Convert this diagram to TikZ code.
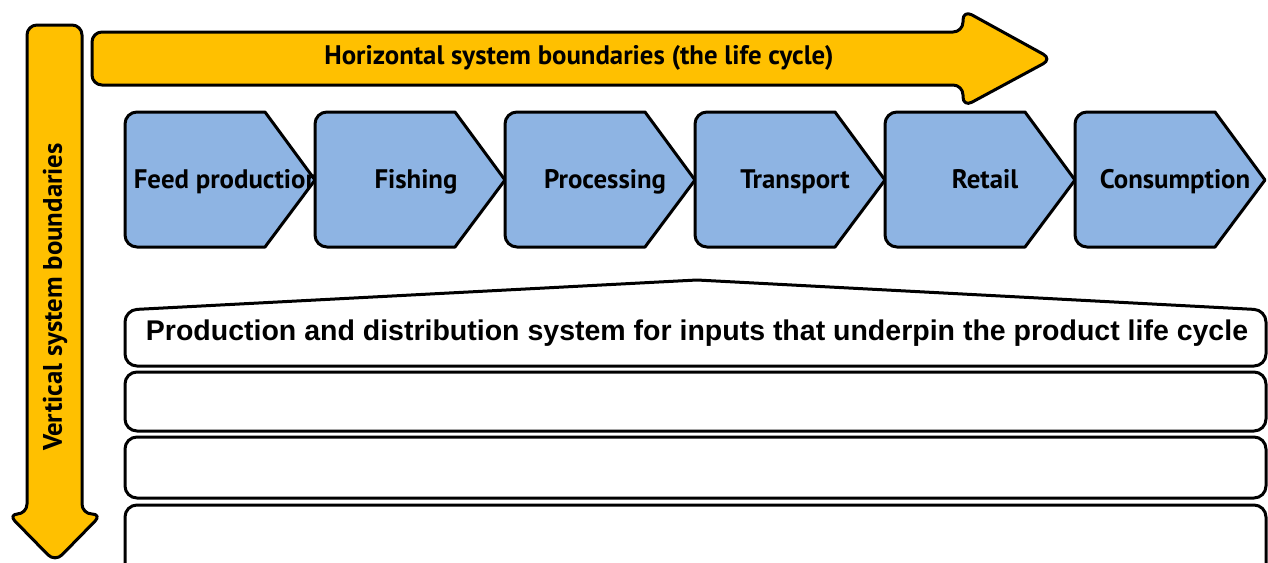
\documentclass[tikz,border=0pt]{standalone}
\usepackage{fontspec}
\setmainfont{Liberation Sans}
\newfontfamily\stagefont{PT Sans}
\definecolor{boundyellow}{HTML}{FFC000}
\definecolor{stageblue}{HTML}{8EB4E3}
\begin{document}
\begin{tikzpicture}[x=0.5pt,y=-0.5pt,line width=1.5pt,line join=round]
\useasboundingbox (0,0) rectangle (1268,562);
% the two boundary arrows
\filldraw[fill=boundyellow,rounded corners=5pt] (92,32) -- (963,32) -- (963,10) -- (1052,59) -- (963,107) -- (963,85) -- (92,85) -- cycle;
\node (horiz) at (579,58) [font={\stagefont\bfseries\fontsize{13.4}{16}\selectfont}] {Horizontal system boundaries (the life cycle)};
\filldraw[fill=boundyellow,rounded corners=5pt] (27,25) -- (82,25) -- (82,514) -- (102,514) -- (55,562) -- (8,514) -- (27,514) -- cycle;
\node (vert) at (55,297) [rotate=90,font={\stagefont\bfseries\fontsize{13.4}{16}\selectfont}] {Vertical system boundaries};
% life cycle stages
\filldraw[fill=stageblue] (125,180) [rounded corners=6pt] -- (125,112) [sharp corners] -- (265,112) -- (315,180) -- (265,247) [rounded corners=6pt] -- (125,247) -- cycle;
\node (feed) at (227,188) [anchor=base,font={\stagefont\bfseries\fontsize{13.4}{16}\selectfont}] {Feed production};
\filldraw[fill=stageblue] (315,180) [rounded corners=6pt] -- (315,112) [sharp corners] -- (455,112) -- (505,180) -- (455,247) [rounded corners=6pt] -- (315,247) -- cycle;
\node (fishing) at (416,188) [anchor=base,font={\stagefont\bfseries\fontsize{13.4}{16}\selectfont}] {Fishing};
\filldraw[fill=stageblue] (505,180) [rounded corners=6pt] -- (505,112) [sharp corners] -- (645,112) -- (695,180) -- (645,247) [rounded corners=6pt] -- (505,247) -- cycle;
\node (processing) at (605,188) [anchor=base,font={\stagefont\bfseries\fontsize{13.4}{16}\selectfont}] {Processing};
\filldraw[fill=stageblue] (695,180) [rounded corners=6pt] -- (695,112) [sharp corners] -- (835,112) -- (885,180) -- (835,247) [rounded corners=6pt] -- (695,247) -- cycle;
\node (transport) at (795,188) [anchor=base,font={\stagefont\bfseries\fontsize{13.4}{16}\selectfont}] {Transport};
\filldraw[fill=stageblue] (885,180) [rounded corners=6pt] -- (885,112) [sharp corners] -- (1025,112) -- (1075,180) -- (1025,247) [rounded corners=6pt] -- (885,247) -- cycle;
\node (retail) at (985,188) [anchor=base,font={\stagefont\bfseries\fontsize{13.4}{16}\selectfont}] {Retail};
\filldraw[fill=stageblue] (1075,180) [rounded corners=6pt] -- (1075,112) [sharp corners] -- (1215,112) -- (1265,180) -- (1215,247) [rounded corners=6pt] -- (1075,247) -- cycle;
\node (consumption) at (1175,188) [anchor=base,font={\stagefont\bfseries\fontsize{13.4}{16}\selectfont}] {Consumption};
% input layers
\draw[rounded corners=6pt] (125,366) -- (125,310) [rounded corners=2pt] -- (697,280) [rounded corners=6pt] -- (1266,310) -- (1266,366) -- cycle;
\node (inputs) at (697,333) [font={\bfseries\fontsize{14.25}{16}\selectfont}] {Production and distribution system for inputs that underpin the product life cycle};
\draw[rounded corners=6pt] (125,372) rectangle (1266,431);
\draw[rounded corners=6pt] (125,437) rectangle (1266,498);
\draw[rounded corners=6pt] (125,505) rectangle (1266,580);
\end{tikzpicture}
\end{document}
